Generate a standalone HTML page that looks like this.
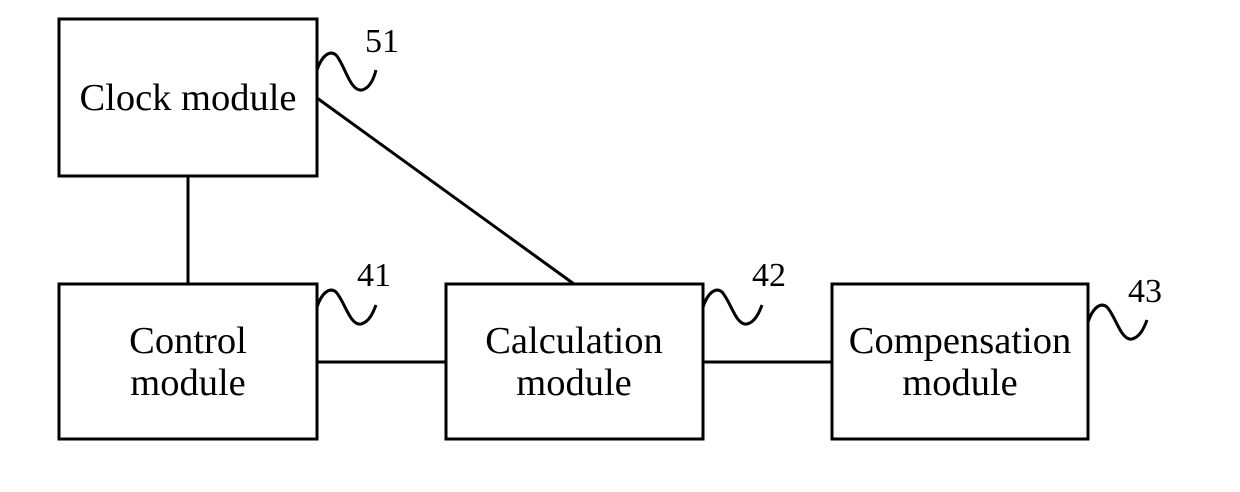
<!DOCTYPE html>
<html><head><style>body{margin:0;background:#fff}svg{display:block}</style></head><body>
<svg width="1240" height="492" xmlns="http://www.w3.org/2000/svg" font-family="Liberation Serif, serif" font-size="34" fill="none" stroke="#000" stroke-width="3">
<rect x="59" y="19" width="258" height="157"/>
<rect x="59" y="284" width="258" height="155"/>
<rect x="446" y="284" width="257" height="155"/>
<rect x="832" y="284" width="256" height="155"/>
<line x1="188" y1="176" x2="188" y2="284"/>
<line x1="317" y1="98" x2="574" y2="284"/>
<line x1="317" y1="362" x2="446" y2="362"/>
<line x1="703" y1="362" x2="832" y2="362"/>
<path d="M317,70 C322,55 330,50 336,55 C345,65 350,92 362,90 C370,88 374,78 376,70"/>
<path d="M317,307 C322,292 330,287 336,292 C345,302 350,326 361,324 C369,322 373,313 376,305"/>
<path d="M703,307 C708,292 716,287 722,292 C731,302 736,326 747,324 C755,322 759,313 762,305"/>
<path d="M1088,322 C1093,307 1101,302 1107,307 C1116,317 1121,341 1132,339 C1140,337 1144,328 1147,320"/>
<g fill="#000" stroke="none">
<text x="365" y="52">51</text>
<text x="357" y="286">41</text>
<text x="752" y="286">42</text>
<text x="1128" y="302">43</text>
<g font-size="38.5">
<text x="188" y="110" text-anchor="middle">Clock module</text>
<text x="188" y="353" text-anchor="middle">Control</text>
<text x="188" y="395" text-anchor="middle">module</text>
<text x="574" y="353" text-anchor="middle">Calculation</text>
<text x="574" y="395" text-anchor="middle">module</text>
<text x="960" y="353" text-anchor="middle">Compensation</text>
<text x="960" y="395" text-anchor="middle">module</text>
</g>
</g>
</svg>
</body></html>
